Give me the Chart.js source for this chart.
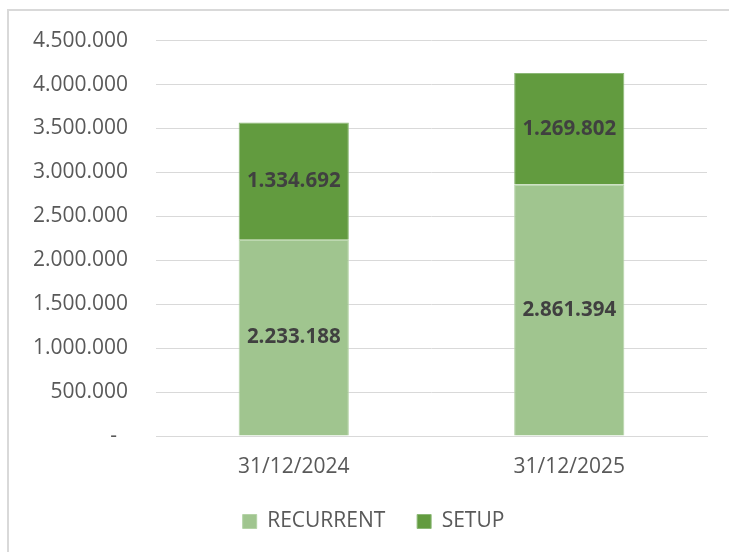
<!DOCTYPE html>
<html>
<head>
<meta charset="utf-8">
<script src="https://cdn.jsdelivr.net/npm/chart.js@4.4.0/dist/chart.umd.min.js"></script>
<style>
  html, body { margin: 0; padding: 0; background: #fff; }
  #wrap { position: relative; width: 729px; height: 552px; overflow: hidden; }
  #frame { position: absolute; left: 7px; top: 9px; width: 800px; height: 700px; border: 2px solid #d9d9d9; box-sizing: border-box; }
  canvas { position: absolute; left: 0; top: 0; }
</style>
</head>
<body>
<div id="wrap">
  <div id="frame"></div>
  <canvas id="c" width="729" height="552"></canvas>
</div>
<script>
const categories = ["31/12/2024", "31/12/2025"];
const recurrent = [2233188, 2861394];
const setup = [1334692, 1269802];
const seriesNames = ["RECURRENT", "SETUP"];
const yMax = 4500000;
const yStep = 500000;

function fmt(v) {
  return Math.round(v).toString().replace(/\B(?=(\d{3})+(?!\d))/g, ".");
}

const FONT = '"Open Sans", sans-serif';

const labelPlugin = {
  id: 'segLabels',
  afterDatasetsDraw(chart) {
    const ctx = chart.ctx;
    ctx.save();
    ctx.font = 'bold 20.5px ' + FONT;
    ctx.fillStyle = '#404040';
    ctx.textAlign = 'center';
    ctx.textBaseline = 'middle';
    chart.data.datasets.forEach((ds, i) => {
      const meta = chart.getDatasetMeta(i);
      meta.data.forEach((bar, j) => {
        const yc = (bar.y + bar.base) / 2;
        ctx.fillText(fmt(ds.data[j]), bar.x, yc);
      });
    });
    ctx.restore();
  }
};

const legendShift = {
  id: 'legendShift',
  afterLayout(chart) {
    if (chart.legend) chart.legend.left = 40;
  }
};

new Chart(document.getElementById('c'), {
  type: 'bar',
  data: {
    labels: categories,
    datasets: [
      { label: seriesNames[0], data: recurrent, backgroundColor: '#a0c58f', borderColor: '#b5d3a7', borderWidth: 1, categoryPercentage: 0.8, barPercentage: 0.5 },
      { label: seriesNames[1], data: setup, backgroundColor: '#629b3f', borderColor: '#8cb876', borderWidth: 1, categoryPercentage: 0.8, barPercentage: 0.5 }
    ]
  },
  options: {
    responsive: false,
    animation: false,
    layout: { padding: { left: 0, right: 22, top: 32, bottom: 10 } },
    plugins: {
      legend: {
        position: 'bottom',
        labels: {
          boxWidth: 14, boxHeight: 14, padding: 10,
          color: '#595959',
          font: { size: 21, family: FONT },
          generateLabels(chart) {
            const items = Chart.defaults.plugins.legend.labels.generateLabels(chart);
            if (items.length) items[0].text = items[0].text + '    ';
            return items;
          }
        }
      },
      tooltip: { enabled: false }
    },
    scales: {
      x: {
        stacked: true,
        afterFit(scale) { scale.height = 65; },
        grid: { display: false, drawTicks: false },
        border: { color: '#d9d9d9', width: 1 },
        ticks: { color: '#595959', padding: 18, font: { size: 21, family: FONT } }
      },
      y: {
        stacked: true,
        min: 0, max: yMax,
        afterFit(scale) { scale.width = 156; },
        grid: { color: '#d9d9d9', drawTicks: false },
        border: { display: false },
        ticks: {
          stepSize: yStep,
          padding: 28,
          color: '#595959',
          font: { size: 21, family: FONT },
          callback: (v) => v === 0 ? '-  ' : fmt(v)
        }
      }
    }
  },
  plugins: [labelPlugin, legendShift]
});
</script>
</body>
</html>
